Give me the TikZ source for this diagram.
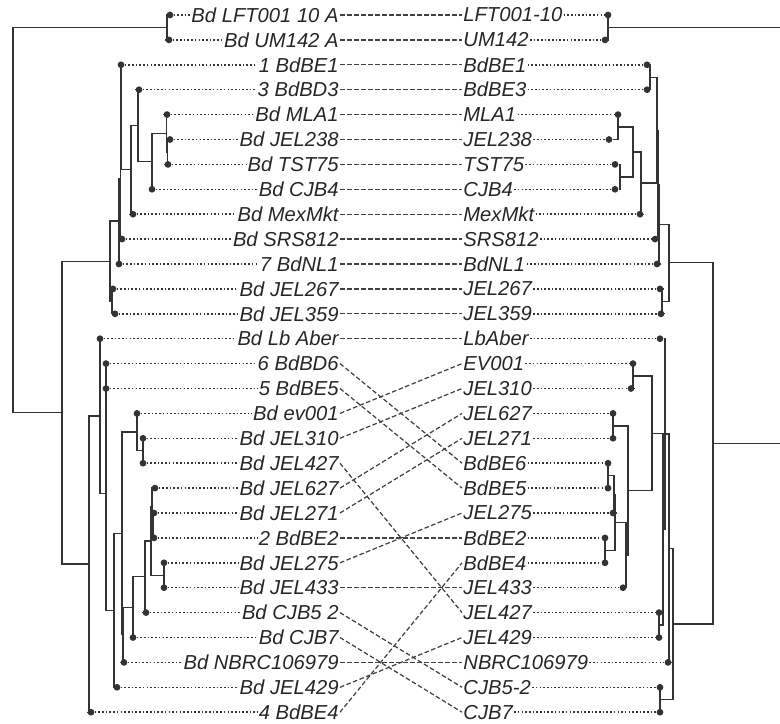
\documentclass[tikz,border=0pt]{standalone}
\usepackage{fontspec}
\setmainfont{Liberation Sans}
\usepackage{tikz}
\definecolor{treegray}{gray}{0.2}
\definecolor{linkgray}{gray}{0.25}

\begin{document}
\begin{tikzpicture}[x=0.02cm, y=-0.02cm]
    \tikzstyle{lname} = [anchor=east, inner sep=0.6pt, text=black!85, font=\fontsize{11.5}{13}\selectfont\itshape]
    \tikzstyle{rname} = [anchor=west, inner sep=0.6pt, text=black!85, font=\fontsize{11.5}{13}\selectfont\itshape]
    \tikzstyle{tip} = [circle, fill=treegray, inner sep=0pt, minimum size=0.135cm]
    \tikzstyle{branch} = [draw=treegray, line width=0.75pt]
    \tikzstyle{leaf} = [draw=treegray, line width=0.9pt, dash pattern=on 0.9pt off 1.2pt]
    \tikzstyle{link} = [draw=linkgray, line width=0.7pt, dash pattern=on 2.6pt off 1.4pt]

    \useasboundingbox (0,0) rectangle (780,723);

    % left labels
    \node (l1)  [lname] at (340,15.0)  {Bd LFT001 10 A};
    \node (l2)  [lname] at (340,39.9)  {Bd UM142 A};
    \node (l3)  [lname] at (340,64.8)  {1 BdBE1};
    \node (l4)  [lname] at (340,89.7)  {3 BdBD3};
    \node (l5)  [lname] at (340,114.6) {Bd MLA1};
    \node (l6)  [lname] at (340,139.5) {Bd JEL238};
    \node (l7)  [lname] at (340,164.4) {Bd TST75};
    \node (l8)  [lname] at (340,189.3) {Bd CJB4};
    \node (l9)  [lname] at (340,214.2) {Bd MexMkt};
    \node (l10) [lname] at (340,239.1) {Bd SRS812};
    \node (l11) [lname] at (340,264.0) {7 BdNL1};
    \node (l12) [lname] at (340,288.9) {Bd JEL267};
    \node (l13) [lname] at (340,313.8) {Bd JEL359};
    \node (l14) [lname] at (340,338.7) {Bd Lb Aber};
    \node (l15) [lname] at (340,363.6) {6 BdBD6};
    \node (l16) [lname] at (340,388.5) {5 BdBE5};
    \node (l17) [lname] at (340,413.4) {Bd ev001};
    \node (l18) [lname] at (340,438.3) {Bd JEL310};
    \node (l19) [lname] at (340,463.2) {Bd JEL427};
    \node (l20) [lname] at (340,488.1) {Bd JEL627};
    \node (l21) [lname] at (340,513.0) {Bd JEL271};
    \node (l22) [lname] at (340,537.9) {2 BdBE2};
    \node (l23) [lname] at (340,562.8) {Bd JEL275};
    \node (l24) [lname] at (340,587.7) {Bd JEL433};
    \node (l25) [lname] at (340,612.6) {Bd CJB5 2};
    \node (l26) [lname] at (340,637.5) {Bd CJB7};
    \node (l27) [lname] at (340,662.4) {Bd NBRC106979};
    \node (l28) [lname] at (340,687.3) {Bd JEL429};
    \node (l29) [lname] at (340,712.2) {4 BdBE4};

    % right labels
    \node (r1)  [rname] at (462,15.0)  {LFT001-10};
    \node (r2)  [rname] at (462,39.9)  {UM142};
    \node (r3)  [rname] at (462,64.8)  {BdBE1};
    \node (r4)  [rname] at (462,89.7)  {BdBE3};
    \node (r5)  [rname] at (462,114.6) {MLA1};
    \node (r6)  [rname] at (462,139.5) {JEL238};
    \node (r7)  [rname] at (462,164.4) {TST75};
    \node (r8)  [rname] at (462,189.3) {CJB4};
    \node (r9)  [rname] at (462,214.2) {MexMkt};
    \node (r10) [rname] at (462,239.1) {SRS812};
    \node (r11) [rname] at (462,264.0) {BdNL1};
    \node (r12) [rname] at (462,288.9) {JEL267};
    \node (r13) [rname] at (462,313.8) {JEL359};
    \node (r14) [rname] at (462,338.7) {LbAber};
    \node (r15) [rname] at (462,363.6) {EV001};
    \node (r16) [rname] at (462,388.5) {JEL310};
    \node (r17) [rname] at (462,413.4) {JEL627};
    \node (r18) [rname] at (462,438.3) {JEL271};
    \node (r19) [rname] at (462,463.2) {BdBE6};
    \node (r20) [rname] at (462,488.1) {BdBE5};
    \node (r21) [rname] at (462,513.0) {JEL275};
    \node (r22) [rname] at (462,537.9) {BdBE2};
    \node (r23) [rname] at (462,562.8) {BdBE4};
    \node (r24) [rname] at (462,587.7) {JEL433};
    \node (r25) [rname] at (462,612.6) {JEL427};
    \node (r26) [rname] at (462,637.5) {JEL429};
    \node (r27) [rname] at (462,662.4) {NBRC106979};
    \node (r28) [rname] at (462,687.3) {CJB5-2};
    \node (r29) [rname] at (462,712.2) {CJB7};

    % left tips
    \node (lt1)  [tip] at (170,15.0)  {};
    \node (lt2)  [tip] at (169,39.9)  {};
    \node (lt3)  [tip] at (121,64.8)  {};
    \node (lt4)  [tip] at (139,89.7)  {};
    \node (lt5)  [tip] at (167,114.6) {};
    \node (lt6)  [tip] at (170,139.5) {};
    \node (lt7)  [tip] at (168,164.4) {};
    \node (lt8)  [tip] at (152,189.3) {};
    \node (lt9)  [tip] at (133,214.2) {};
    \node (lt10) [tip] at (122,239.1) {};
    \node (lt11) [tip] at (119,264.0) {};
    \node (lt12) [tip] at (113,288.9) {};
    \node (lt13) [tip] at (115,313.8) {};
    \node (lt14) [tip] at (100,338.7) {};
    \node (lt15) [tip] at (106,363.6) {};
    \node (lt16) [tip] at (106,388.5) {};
    \node (lt17) [tip] at (137,413.4) {};
    \node (lt18) [tip] at (143,438.3) {};
    \node (lt19) [tip] at (143,463.2) {};
    \node (lt20) [tip] at (155,488.1) {};
    \node (lt21) [tip] at (154,513.0) {};
    \node (lt22) [tip] at (154,537.9) {};
    \node (lt23) [tip] at (164,562.8) {};
    \node (lt24) [tip] at (164,587.7) {};
    \node (lt25) [tip] at (146,612.6) {};
    \node (lt26) [tip] at (133,637.5) {};
    \node (lt27) [tip] at (124,662.4) {};
    \node (lt28) [tip] at (117,687.3) {};
    \node (lt29) [tip] at (91,712.2)  {};

    % right tips
    \node (rt1)  [tip] at (608,15.0)  {};
    \node (rt2)  [tip] at (605,39.9)  {};
    \node (rt3)  [tip] at (647,64.8)  {};
    \node (rt4)  [tip] at (647,89.7)  {};
    \node (rt5)  [tip] at (618,114.6) {};
    \node (rt6)  [tip] at (609,139.5) {};
    \node (rt7)  [tip] at (615,164.4) {};
    \node (rt8)  [tip] at (615,189.3) {};
    \node (rt9)  [tip] at (640,214.2) {};
    \node (rt10) [tip] at (655,239.1) {};
    \node (rt11) [tip] at (657,264.0) {};
    \node (rt12) [tip] at (660,288.9) {};
    \node (rt13) [tip] at (661,313.8) {};
    \node (rt14) [tip] at (660,338.7) {};
    \node (rt15) [tip] at (633,363.6) {};
    \node (rt16) [tip] at (631,388.5) {};
    \node (rt17) [tip] at (613,413.4) {};
    \node (rt18) [tip] at (613,438.3) {};
    \node (rt19) [tip] at (608,463.2) {};
    \node (rt20) [tip] at (608,488.1) {};
    \node (rt21) [tip] at (613,513.0) {};
    \node (rt22) [tip] at (605,537.9) {};
    \node (rt23) [tip] at (605,562.8) {};
    \node (rt24) [tip] at (623,587.7) {};
    \node (rt25) [tip] at (659,612.6) {};
    \node (rt26) [tip] at (659,637.5) {};
    \node (rt27) [tip] at (668,662.4) {};
    \node (rt28) [tip] at (660,687.3) {};
    \node (rt29) [tip] at (660,712.2) {};

    % left tree nodes
    \coordinate (lroot) at (13,220.1);
    \coordinate (lnTop) at (167,27.5);
    \coordinate (lnLow) at (62,412.7);
    \coordinate (lnA)   at (110,261.2);
    \coordinate (lnP)   at (112,301.4);
    \coordinate (lnX)   at (119,221.1);
    \coordinate (lnY)   at (120.5,178.2);
    \coordinate (lnZ)   at (121,117.3);
    \coordinate (lnW)   at (131,169.8);
    \coordinate (lnV)   at (138,125.5);
    \coordinate (lnU)   at (152,161.3);
    \coordinate (lnT)   at (166.5,133.3);
    \coordinate (lnS)   at (167.5,152.0);
    \coordinate (lnB)   at (89,564.1);
    \coordinate (lnQ)   at (100,416.0);
    \coordinate (lnR)   at (106,493.2);
    \coordinate (lnR1)  at (106,376.0);
    \coordinate (lnR2)  at (114,610.4);
    \coordinate (lnR3)  at (122,533.5);
    \coordinate (lnE)   at (137,432.1);
    \coordinate (lnE2)  at (143,450.8);
    \coordinate (lnF)   at (123,634.8);
    \coordinate (lnG)   at (133,607.2);
    \coordinate (lnH)   at (145,576.8);
    \coordinate (lnI)   at (151,541.0);
    \coordinate (lnJ)   at (152,506.8);
    \coordinate (lnJ2)  at (153,525.5);
    \coordinate (lnK)   at (164,575.3);

    % right tree nodes
    \coordinate (rroot) at (783,235.5);
    \coordinate (rnTop) at (608,27.5);
    \coordinate (rnLow) at (713,443.4);
    \coordinate (rnA)   at (669,262.8);
    \coordinate (rnP)   at (662,301.4);
    \coordinate (rnX)   at (659,224.3);
    \coordinate (rnY)   at (658,184.6);
    \coordinate (rnZ)   at (657,130.2);
    \coordinate (rnBE)  at (650,77.3);
    \coordinate (rnW)   at (641,183.1);
    \coordinate (rnV)   at (633,152.0);
    \coordinate (rnT)   at (618,127.1);
    \coordinate (rnS)   at (620,176.9);
    \coordinate (rnB)   at (673,624.0);
    \coordinate (rnS3)  at (669,548.2);
    \coordinate (rnS2)  at (665,433.9);
    \coordinate (rnS1)  at (663,529.1);
    \coordinate (rnPn)  at (652,433.2);
    \coordinate (rnE)   at (633,376.0);
    \coordinate (rnO)   at (628,490.4);
    \coordinate (rnJ)   at (613,425.9);
    \coordinate (rnN)   at (626,555.0);
    \coordinate (rnM)   at (615,522.4);
    \coordinate (rnM2)  at (614,494.3);
    \coordinate (rnM1)  at (608,475.7);
    \coordinate (rnBE24) at (605,550.4);
    \coordinate (rnJJ)  at (659,625.0);
    \coordinate (rnC)   at (660,699.8);

    % left branches
    \draw [branch] (lroot) |- (lnTop);
    \draw [branch] (lroot) |- (lnLow);
    \draw [branch] (lnTop) |- (lt1);
    \draw [branch] (lnTop) |- (lt2);
    \draw [branch] (lnLow) |- (lnA);
    \draw [branch] (lnLow) |- (lnB);
    \draw [branch] (lnA) |- (lnX);
    \draw [branch] (lnA) |- (lnP);
    \draw [branch] (lnP) |- (lt12);
    \draw [branch] (lnP) |- (lt13);
    \draw [branch] (lnX) |- (lnY);
    \draw [branch] (lnX) |- (lt11);
    \draw [branch] (lnY) |- (lnZ);
    \draw [branch] (lnY) |- (lt10);
    \draw [branch] (lnZ) |- (lt3);
    \draw [branch] (lnZ) |- (lnW);
    \draw [branch] (lnW) |- (lnV);
    \draw [branch] (lnW) |- (lt9);
    \draw [branch] (lnV) |- (lt4);
    \draw [branch] (lnV) |- (lnU);
    \draw [branch] (lnU) |- (lnT);
    \draw [branch] (lnU) |- (lt8);
    \draw [branch] (lnT) |- (lt5);
    \draw [branch] (lnT) |- (lnS);
    \draw [branch] (lnS) |- (lt6);
    \draw [branch] (lnS) |- (lt7);
    \draw [branch] (lnB) |- (lnQ);
    \draw [branch] (lnB) |- (lt29);
    \draw [branch] (lnQ) |- (lt14);
    \draw [branch] (lnQ) |- (lnR);
    \draw [branch] (lnR) |- (lnR1);
    \draw [branch] (lnR) |- (lnR2);
    \draw [branch] (lnR1) |- (lt15);
    \draw [branch] (lnR1) |- (lt16);
    \draw [branch] (lnR2) |- (lnR3);
    \draw [branch] (lnR2) |- (lt28);
    \draw [branch] (lnR3) |- (lnE);
    \draw [branch] (lnR3) |- (lnF);
    \draw [branch] (lnE) |- (lt17);
    \draw [branch] (lnE) |- (lnE2);
    \draw [branch] (lnE2) |- (lt18);
    \draw [branch] (lnE2) |- (lt19);
    \draw [branch] (lnF) |- (lnG);
    \draw [branch] (lnF) |- (lt27);
    \draw [branch] (lnG) |- (lnH);
    \draw [branch] (lnG) |- (lt26);
    \draw [branch] (lnH) |- (lnI);
    \draw [branch] (lnH) |- (lt25);
    \draw [branch] (lnI) |- (lnJ);
    \draw [branch] (lnI) |- (lnK);
    \draw [branch] (lnJ) |- (lt20);
    \draw [branch] (lnJ) |- (lnJ2);
    \draw [branch] (lnJ2) |- (lt21);
    \draw [branch] (lnJ2) |- (lt22);
    \draw [branch] (lnK) |- (lt23);
    \draw [branch] (lnK) |- (lt24);

    % right branches
    \draw [branch] (rroot) |- (rnTop);
    \draw [branch] (rroot) |- (rnLow);
    \draw [branch] (rnTop) |- (rt1);
    \draw [branch] (rnTop) |- (rt2);
    \draw [branch] (rnLow) |- (rnA);
    \draw [branch] (rnLow) |- (rnB);
    \draw [branch] (rnA) |- (rnX);
    \draw [branch] (rnA) |- (rnP);
    \draw [branch] (rnP) |- (rt12);
    \draw [branch] (rnP) |- (rt13);
    \draw [branch] (rnX) |- (rnY);
    \draw [branch] (rnX) |- (rt11);
    \draw [branch] (rnY) |- (rnZ);
    \draw [branch] (rnY) |- (rt10);
    \draw [branch] (rnZ) |- (rnBE);
    \draw [branch] (rnZ) |- (rnW);
    \draw [branch] (rnBE) |- (rt3);
    \draw [branch] (rnBE) |- (rt4);
    \draw [branch] (rnW) |- (rnV);
    \draw [branch] (rnW) |- (rt9);
    \draw [branch] (rnV) |- (rnT);
    \draw [branch] (rnV) |- (rnS);
    \draw [branch] (rnT) |- (rt5);
    \draw [branch] (rnT) |- (rt6);
    \draw [branch] (rnS) |- (rt7);
    \draw [branch] (rnS) |- (rt8);
    \draw [branch] (rnB) |- (rnS3);
    \draw [branch] (rnB) |- (rnC);
    \draw [branch] (rnS3) |- (rnS2);
    \draw [branch] (rnS3) |- (rt27);
    \draw [branch] (rnS2) |- (rt14);
    \draw [branch] (rnS2) |- (rnS1);
    \draw [branch] (rnS1) |- (rnPn);
    \draw [branch] (rnS1) |- (rnJJ);
    \draw [branch] (rnJJ) |- (rt25);
    \draw [branch] (rnJJ) |- (rt26);
    \draw [branch] (rnPn) |- (rnE);
    \draw [branch] (rnPn) |- (rnO);
    \draw [branch] (rnE) |- (rt15);
    \draw [branch] (rnE) |- (rt16);
    \draw [branch] (rnO) |- (rnJ);
    \draw [branch] (rnO) |- (rnN);
    \draw [branch] (rnJ) |- (rt17);
    \draw [branch] (rnJ) |- (rt18);
    \draw [branch] (rnN) |- (rnM);
    \draw [branch] (rnN) |- (rt24);
    \draw [branch] (rnM) |- (rnM2);
    \draw [branch] (rnM) |- (rnBE24);
    \draw [branch] (rnM2) |- (rnM1);
    \draw [branch] (rnM2) |- (rt21);
    \draw [branch] (rnM1) |- (rt19);
    \draw [branch] (rnM1) |- (rt20);
    \draw [branch] (rnBE24) |- (rt22);
    \draw [branch] (rnBE24) |- (rt23);
    \draw [branch] (rnC) |- (rt28);
    \draw [branch] (rnC) |- (rt29);

    % dotted tip lines
    \draw [leaf] (lt1) -- (l1);    \draw [leaf] (r1) -- (rt1);
    \draw [leaf] (lt2) -- (l2);    \draw [leaf] (r2) -- (rt2);
    \draw [leaf] (lt3) -- (l3);    \draw [leaf] (r3) -- (rt3);
    \draw [leaf] (lt4) -- (l4);    \draw [leaf] (r4) -- (rt4);
    \draw [leaf] (lt5) -- (l5);    \draw [leaf] (r5) -- (rt5);
    \draw [leaf] (lt6) -- (l6);    \draw [leaf] (r6) -- (rt6);
    \draw [leaf] (lt7) -- (l7);    \draw [leaf] (r7) -- (rt7);
    \draw [leaf] (lt8) -- (l8);    \draw [leaf] (r8) -- (rt8);
    \draw [leaf] (lt9) -- (l9);    \draw [leaf] (r9) -- (rt9);
    \draw [leaf] (lt10) -- (l10);  \draw [leaf] (r10) -- (rt10);
    \draw [leaf] (lt11) -- (l11);  \draw [leaf] (r11) -- (rt11);
    \draw [leaf] (lt12) -- (l12);  \draw [leaf] (r12) -- (rt12);
    \draw [leaf] (lt13) -- (l13);  \draw [leaf] (r13) -- (rt13);
    \draw [leaf] (lt14) -- (l14);  \draw [leaf] (r14) -- (rt14);
    \draw [leaf] (lt15) -- (l15);  \draw [leaf] (r15) -- (rt15);
    \draw [leaf] (lt16) -- (l16);  \draw [leaf] (r16) -- (rt16);
    \draw [leaf] (lt17) -- (l17);  \draw [leaf] (r17) -- (rt17);
    \draw [leaf] (lt18) -- (l18);  \draw [leaf] (r18) -- (rt18);
    \draw [leaf] (lt19) -- (l19);  \draw [leaf] (r19) -- (rt19);
    \draw [leaf] (lt20) -- (l20);  \draw [leaf] (r20) -- (rt20);
    \draw [leaf] (lt21) -- (l21);  \draw [leaf] (r21) -- (rt21);
    \draw [leaf] (lt22) -- (l22);  \draw [leaf] (r22) -- (rt22);
    \draw [leaf] (lt23) -- (l23);  \draw [leaf] (r23) -- (rt23);
    \draw [leaf] (lt24) -- (l24);  \draw [leaf] (r24) -- (rt24);
    \draw [leaf] (lt25) -- (l25);  \draw [leaf] (r25) -- (rt25);
    \draw [leaf] (lt26) -- (l26);  \draw [leaf] (r26) -- (rt26);
    \draw [leaf] (lt27) -- (l27);  \draw [leaf] (r27) -- (rt27);
    \draw [leaf] (lt28) -- (l28);  \draw [leaf] (r28) -- (rt28);
    \draw [leaf] (lt29) -- (l29);  \draw [leaf] (r29) -- (rt29);

    % dashed links between the two trees
    \draw [link] (l1.east) -- (r1.west);
    \draw [link] (l2.east) -- (r2.west);
    \draw [link] (l3.east) -- (r3.west);
    \draw [link] (l4.east) -- (r4.west);
    \draw [link] (l5.east) -- (r5.west);
    \draw [link] (l6.east) -- (r6.west);
    \draw [link] (l7.east) -- (r7.west);
    \draw [link] (l8.east) -- (r8.west);
    \draw [link] (l9.east) -- (r9.west);
    \draw [link] (l10.east) -- (r10.west);
    \draw [link] (l11.east) -- (r11.west);
    \draw [link] (l12.east) -- (r12.west);
    \draw [link] (l13.east) -- (r13.west);
    \draw [link] (l14.east) -- (r14.west);
    \draw [link] (l15.east) -- (r19.west);
    \draw [link] (l16.east) -- (r20.west);
    \draw [link] (l17.east) -- (r15.west);
    \draw [link] (l18.east) -- (r16.west);
    \draw [link] (l19.east) -- (r25.west);
    \draw [link] (l20.east) -- (r17.west);
    \draw [link] (l21.east) -- (r18.west);
    \draw [link] (l22.east) -- (r22.west);
    \draw [link] (l23.east) -- (r21.west);
    \draw [link] (l24.east) -- (r24.west);
    \draw [link] (l25.east) -- (r28.west);
    \draw [link] (l26.east) -- (r29.west);
    \draw [link] (l27.east) -- (r27.west);
    \draw [link] (l28.east) -- (r26.west);
    \draw [link] (l29.east) -- (r23.west);
\end{tikzpicture}
\end{document}
